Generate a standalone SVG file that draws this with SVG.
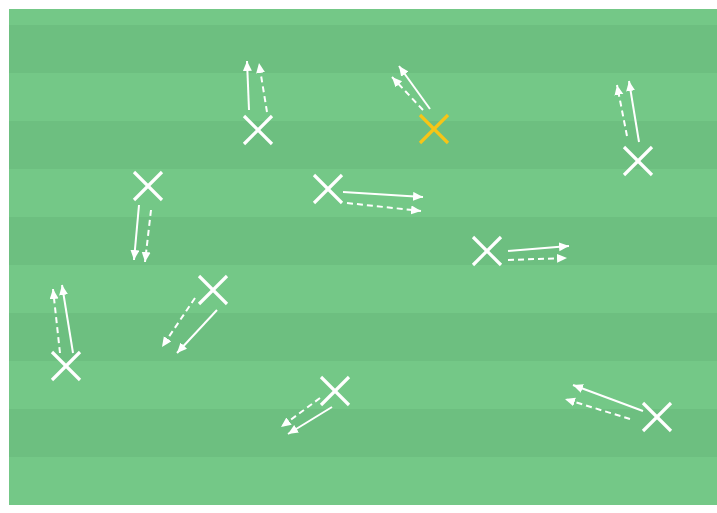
<svg xmlns="http://www.w3.org/2000/svg" width="717" height="513" viewBox="0 0 717 513">
<defs>
<style>
.lt{fill:#74c887}
.dk{fill:#6dbf80}
.x line{stroke:#ffffff;stroke-width:3.2}
.xy line{stroke:#f7c517;stroke-width:3.2}
.run{stroke:#ffffff;stroke-width:2;fill:none;marker-end:url(#ah)}
.pass{stroke:#ffffff;stroke-width:2;fill:none;stroke-dasharray:6 4;marker-end:url(#ah)}
</style>
<marker id="ah" markerUnits="userSpaceOnUse" markerWidth="12" markerHeight="10" refX="10" refY="4.5" orient="auto" viewBox="0 0 12 10">
<path d="M0,0 L10,4.5 L0,9 Z" fill="#ffffff"/>
</marker>
</defs>
<rect x="0" y="0" width="717" height="513" fill="#ffffff"/>
<g id="pitch">
<rect class="lt" x="9" y="9" width="708" height="16"/>
<rect class="dk" x="9" y="25" width="708" height="48"/>
<rect class="lt" x="9" y="73" width="708" height="48"/>
<rect class="dk" x="9" y="121" width="708" height="48"/>
<rect class="lt" x="9" y="169" width="708" height="48"/>
<rect class="dk" x="9" y="217" width="708" height="48"/>
<rect class="lt" x="9" y="265" width="708" height="48"/>
<rect class="dk" x="9" y="313" width="708" height="48"/>
<rect class="lt" x="9" y="361" width="708" height="48"/>
<rect class="dk" x="9" y="409" width="708" height="48"/>
<rect class="lt" x="9" y="457" width="708" height="48"/>
</g>
<g id="connectors">
<line class="run" x1="249" y1="110" x2="247" y2="61"/>
<line class="pass" x1="267" y1="112" x2="259" y2="63"/>
<line class="run" x1="430" y1="109" x2="399" y2="66"/>
<line class="pass" x1="423" y1="110" x2="392" y2="77"/>
<line class="run" x1="639" y1="142" x2="629" y2="81"/>
<line class="pass" x1="627" y1="136" x2="617" y2="85"/>
<line class="run" x1="139" y1="205" x2="134" y2="260"/>
<line class="pass" x1="151" y1="210" x2="145" y2="262"/>
<line class="run" x1="343" y1="192" x2="423" y2="197"/>
<line class="pass" x1="347" y1="203" x2="421" y2="211"/>
<line class="run" x1="508" y1="251" x2="569" y2="246"/>
<line class="pass" x1="508" y1="260" x2="567" y2="258"/>
<line class="run" x1="217" y1="310" x2="177" y2="353"/>
<line class="pass" x1="195" y1="298" x2="162" y2="347"/>
<line class="run" x1="73" y1="353" x2="62" y2="285"/>
<line class="pass" x1="60" y1="353" x2="53" y2="289"/>
<line class="run" x1="332" y1="407" x2="288" y2="434"/>
<line class="pass" x1="320" y1="398" x2="281" y2="427"/>
<line class="run" x1="643" y1="411" x2="573" y2="385"/>
<line class="pass" x1="630" y1="419" x2="565" y2="399"/>
</g>
<g id="p1" class="x"><line x1="244" y1="116" x2="272" y2="144"/><line x1="272" y1="116" x2="244" y2="144"/></g>
<g id="p2" class="xy"><line x1="420" y1="115" x2="448" y2="143"/><line x1="448" y1="115" x2="420" y2="143"/></g>
<g id="p3" class="x"><line x1="624" y1="147" x2="652" y2="175"/><line x1="652" y1="147" x2="624" y2="175"/></g>
<g id="p4" class="x"><line x1="134" y1="172" x2="162" y2="200"/><line x1="162" y1="172" x2="134" y2="200"/></g>
<g id="p5" class="x"><line x1="314" y1="175" x2="342" y2="203"/><line x1="342" y1="175" x2="314" y2="203"/></g>
<g id="p6" class="x"><line x1="473" y1="237" x2="501" y2="265"/><line x1="501" y1="237" x2="473" y2="265"/></g>
<g id="p7" class="x"><line x1="199" y1="276" x2="227" y2="304"/><line x1="227" y1="276" x2="199" y2="304"/></g>
<g id="p8" class="x"><line x1="52" y1="352" x2="80" y2="380"/><line x1="80" y1="352" x2="52" y2="380"/></g>
<g id="p9" class="x"><line x1="321" y1="377" x2="349" y2="405"/><line x1="349" y1="377" x2="321" y2="405"/></g>
<g id="p10" class="x"><line x1="643" y1="403" x2="671" y2="431"/><line x1="671" y1="403" x2="643" y2="431"/></g>
</svg>
